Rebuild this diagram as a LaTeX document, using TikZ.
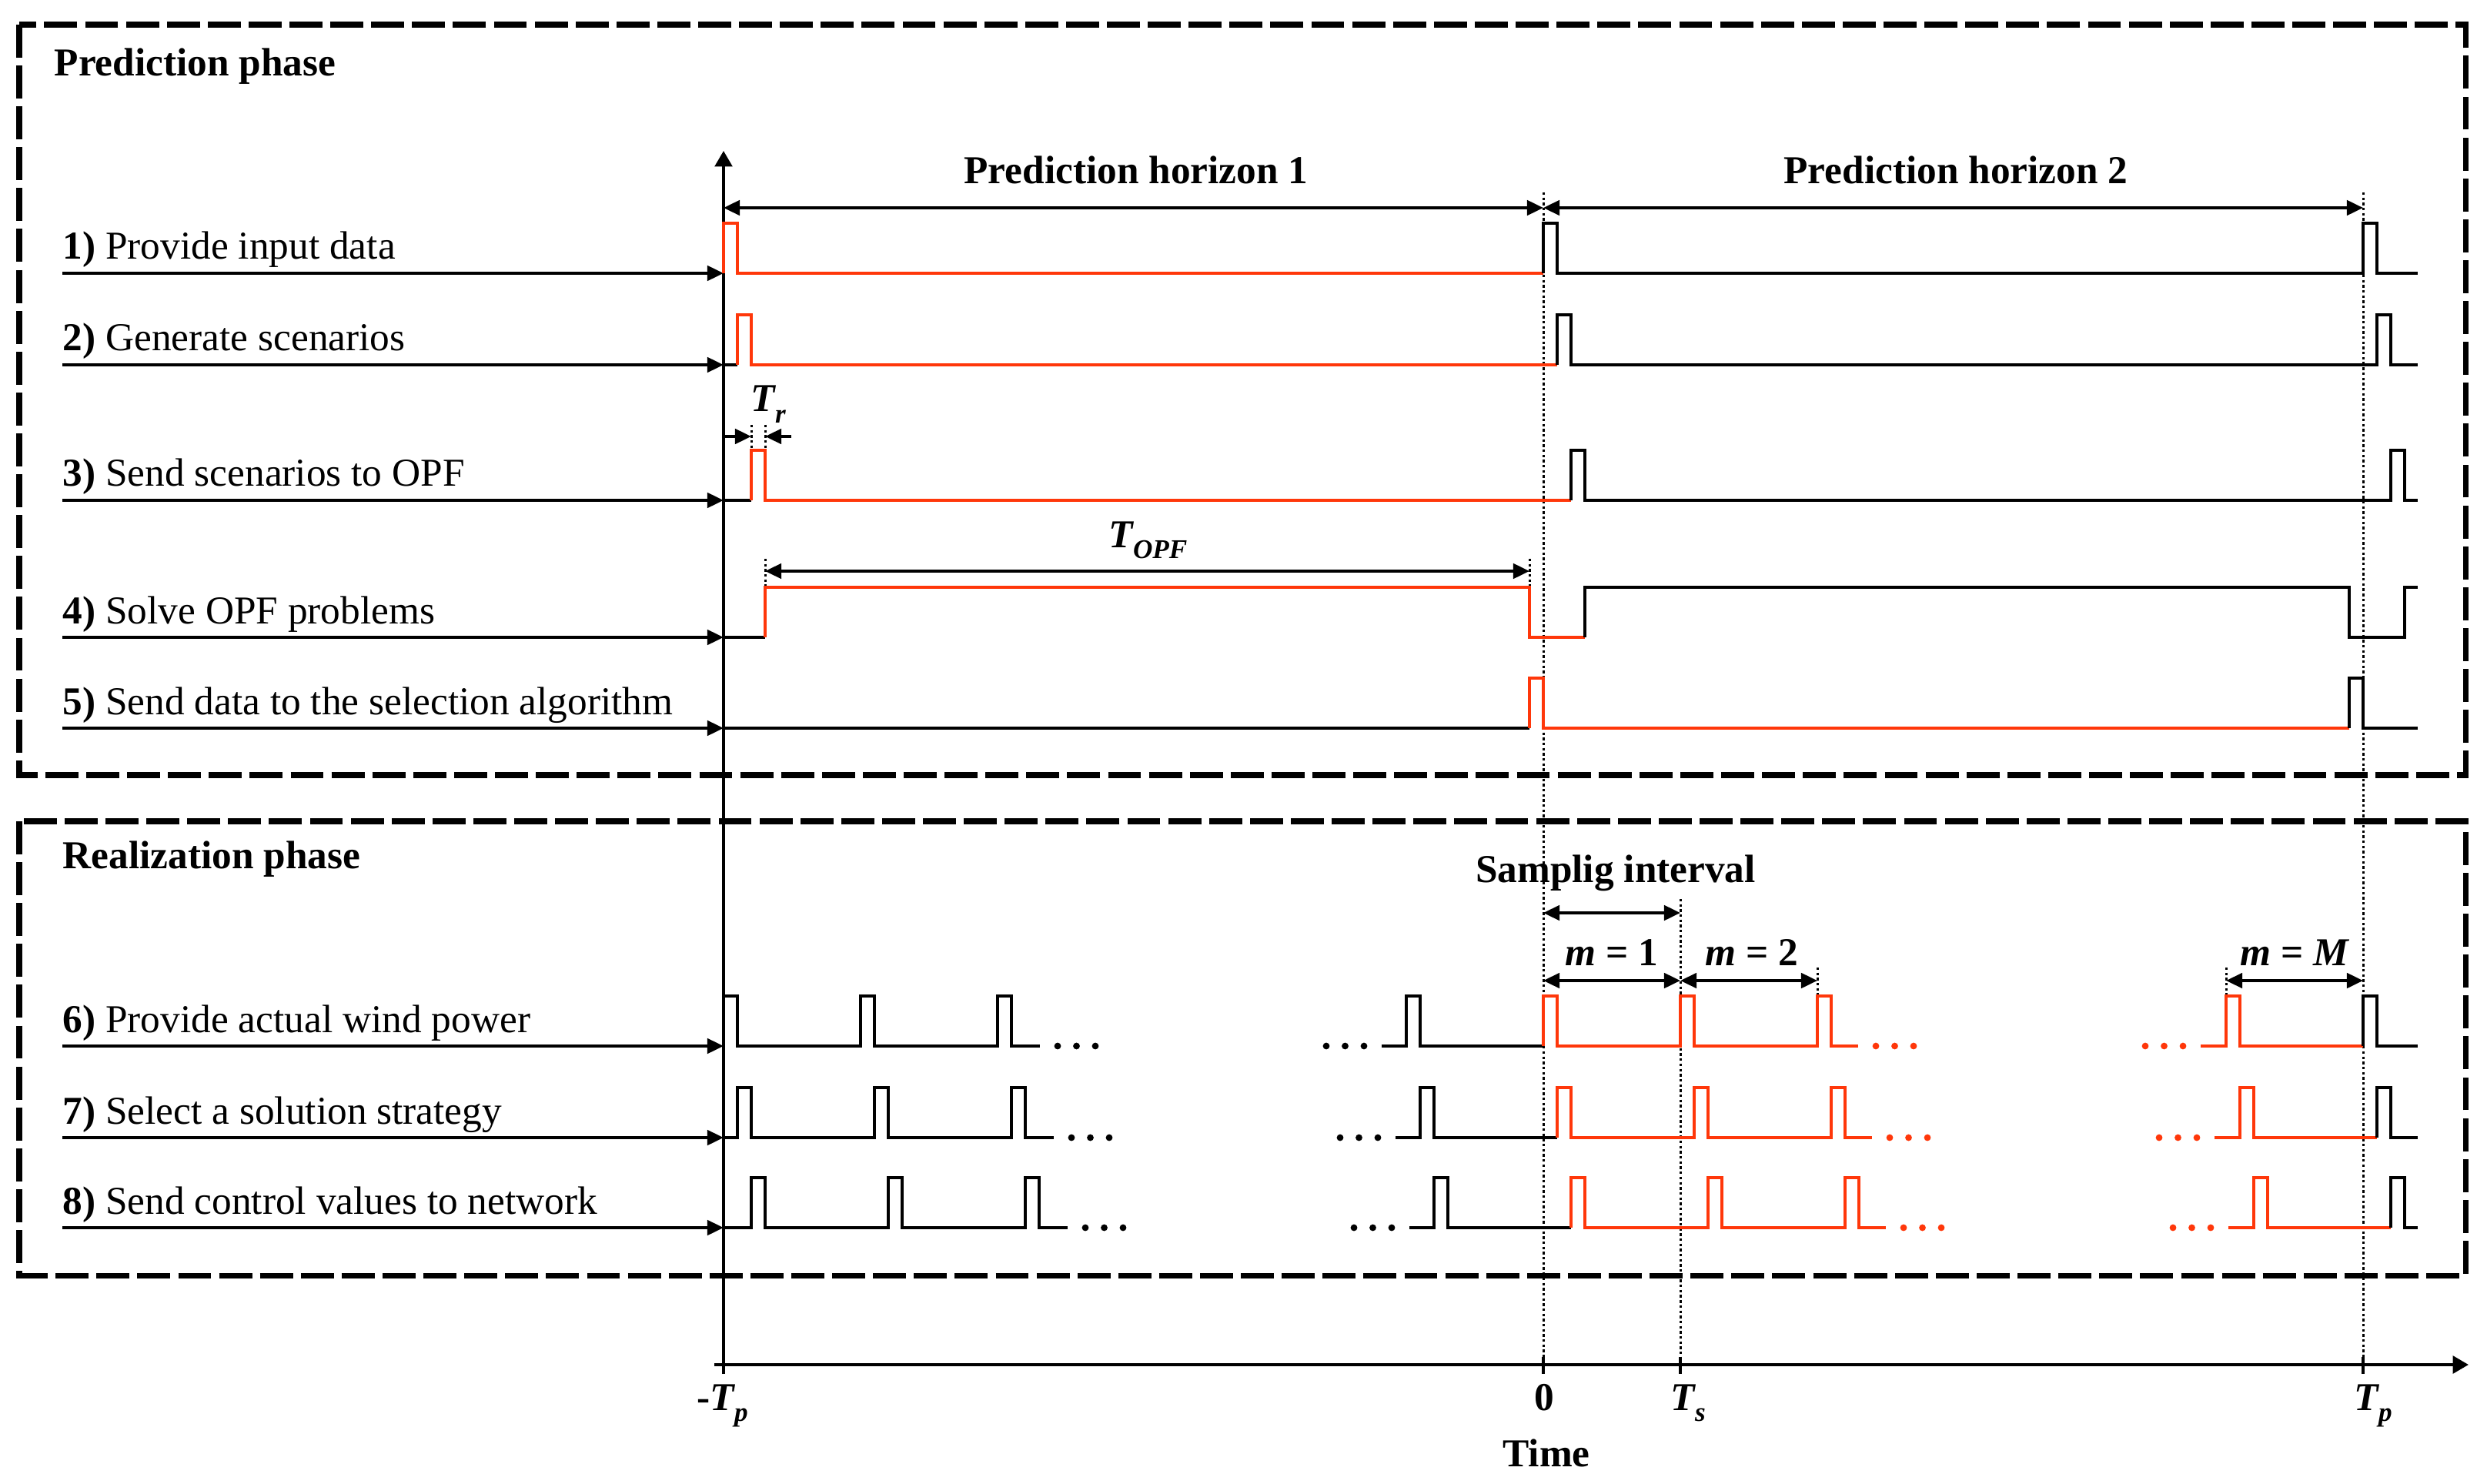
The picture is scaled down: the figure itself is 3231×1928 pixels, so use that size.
\documentclass[tikz,border=0pt]{standalone}
\usepackage{fontspec}
\setmainfont{Liberation Serif}
\usetikzlibrary{arrows.meta}
\definecolor{sigred}{RGB}{255,55,10}
\newcommand\fsz{\fontsize{14.6}{17.5}\selectfont}
\newcommand\sbs[1]{\raisebox{-0.28em}{\fontsize{10}{10}\selectfont #1}}
\newcommand\pls[2]{-- (#1,#2) -- (#1,#2-65) -- (#1+18,#2-65) -- (#1+18,#2)}
\newcommand\dts[3]{\fill[#3] (#1,#2) circle[radius=1.25pt] (#1+24.5,#2) circle[radius=1.25pt] (#1+49,#2) circle[radius=1.25pt];}
\tikzset{
  sigb/.style={line width=1.1pt,black},
  sigr/.style={line width=1.1pt,sigred},
  arr/.style={line width=1.1pt,-{Triangle[length=6pt,width=5.5pt]}},
  dimarr/.style={line width=1.1pt,{Triangle[length=6pt,width=5.5pt]}-{Triangle[length=6pt,width=5.5pt]}},
  dot/.style={line width=0.85pt,dash pattern=on 0.95pt off 0.95pt},
  phasebox/.style={line width=2pt,dash pattern=on 12.2pt off 2.9pt},
  lab/.style={font=\fsz,anchor=base west,inner sep=0pt},
  ttl/.style={font=\fsz\bfseries,anchor=base,inner sep=0pt},
  mlab/.style={font=\fsz\bfseries\itshape,anchor=base,inner sep=0pt},
  tlab/.style={font=\fsz\bfseries\itshape,anchor=base west,inner sep=0pt}
}
\begin{document}
\begin{tikzpicture}[x=0.01cm,y=-0.01cm]
\useasboundingbox (0,0) rectangle (3231,1928);
\def\tA{940}\def\tZ{2005}\def\tP{3070}\def\tS{178}\def\tE{3141}

% phase boxes
\draw[phasebox] (25,32) rectangle (3203,1007);
\draw[phasebox] (25,1067) rectangle (3203,1657);
\node[lab,font=\fsz\bfseries] (pp) at (70,99) {Prediction phase};
\node[lab,font=\fsz\bfseries] (rp) at (81,1128) {Realization phase};

% dotted guide lines
\draw[dot] (\tZ,250) -- (\tZ,1763);
\draw[dot] (\tP,250) -- (\tP,1763);
\draw[dot] (\tZ+\tS,1168) -- (\tZ+\tS,1763);
\draw[dot] (\tZ+2*\tS,1257) -- (\tZ+2*\tS,1294);
\draw[dot] (\tP-\tS,1257) -- (\tP-\tS,1294);
\draw[dot] (976,552) -- (976,585);
\draw[dot] (994,552) -- (994,585);
\draw[dot] (994,726) -- (994,763);
\draw[dot] (1987,726) -- (1987,763);

% axes
\coordinate (axB) at (\tA,1785);
\coordinate (axT) at (\tA,196);
\coordinate (axL) at (928,1773);
\coordinate (axR) at (3207,1773);
\draw[line width=1.1pt,-{Triangle[length=5.8pt,width=6.4pt]}] (axB) -- (axT);
\draw[line width=1.2pt,-{Triangle[length=5.8pt,width=6.4pt]}] (axL) -- (axR);
\foreach \tx in {\tZ,2183,\tP} \draw[line width=1.1pt] (\tx,1763) -- (\tx,1785);
\node[tlab] (lmtp) at (905,1832) {\upshape -\itshape T\sbs{p}};
\node[ttl] (l0) at (2006,1832) {0};
\node[tlab] (lts) at (2170,1832) {T\sbs{s}};
\node[tlab] (ltp) at (3058,1832) {T\sbs{p}};
\node[ttl] (ltime) at (2009,1905) {Time};

% row labels and input arrows
\foreach \yy/\txt [count=\i] in {355/{\textbf{1)} Provide input data},474/{\textbf{2)} Generate scenarios},650/{\textbf{3)} Send scenarios to OPF},828/{\textbf{4)} Solve OPF problems},946/{\textbf{5)} Send data to the selection algorithm},1359/{\textbf{6)} Provide actual wind power},1478/{\textbf{7)} Select a solution strategy},1595/{\textbf{8)} Send control values to network}}{
  \node[lab] (row\i) at (81,\yy-18) {\txt};
  \coordinate (rs\i) at (81,\yy);
  \coordinate (re\i) at (\tA,\yy);
  \draw[arr] (rs\i) -- (re\i);
}

% prediction horizons
\coordinate (h1L) at (\tA,270);
\coordinate (h1R) at (\tZ,270);
\coordinate (h2R) at (\tP,270);
\draw[dimarr] (h1L) -- (h1R);
\draw[dimarr] (h1R) -- (h2R);
\node[ttl] (ph1) at (1476,239) {Prediction horizon 1};
\node[ttl] (ph2) at (2541,239) {Prediction horizon 2};

% T_r
\coordinate (trA) at (\tA,567);
\coordinate (trB) at (976,567);
\coordinate (trC) at (994,567);
\coordinate (trD) at (1028,567);
\draw[arr] (trA) -- (trB);
\draw[arr] (trD) -- (trC);
\node[tlab] (tr) at (975,535) {T\sbs{r}};

% T_OPF
\coordinate (toL) at (994,742);
\coordinate (toR) at (1987,742);
\draw[dimarr] (toL) -- (toR);
\node[tlab] (topf) at (1440,711) {T\sbs{OPF}};

% prediction signals
\draw[sigr] (\tA,355) \pls{\tA}{355} -- (\tZ,355);
\draw[sigb] (\tZ,355) \pls{\tZ}{355} \pls{\tP}{355} -- (\tE,355);

\draw[sigb] (\tA,474) -- (\tA+18,474);
\draw[sigr] (\tA+18,474) \pls{\tA+18}{474} -- (\tZ+18,474);
\draw[sigb] (\tZ+18,474) \pls{\tZ+18}{474} \pls{\tP+18}{474} -- (\tE,474);

\draw[sigb] (\tA,650) -- (\tA+36,650);
\draw[sigr] (\tA+36,650) \pls{\tA+36}{650} -- (\tZ+36,650);
\draw[sigb] (\tZ+36,650) \pls{\tZ+36}{650} \pls{\tP+36}{650} -- (\tE,650);

\draw[sigb] (\tA,828) -- (\tA+54,828);
\draw[sigr] (\tA+54,828) -- (\tA+54,763) -- (\tZ-18,763) -- (\tZ-18,828) -- (\tZ+54,828);
\draw[sigb] (\tZ+54,828) -- (\tZ+54,763) -- (\tP-18,763) -- (\tP-18,828) -- (\tP+54,828) -- (\tP+54,763) -- (\tE,763);

\draw[sigb] (\tA,946) -- (\tZ-18,946);
\draw[sigr] (\tZ-18,946) \pls{\tZ-18}{946} -- (\tP-18,946);
\draw[sigb] (\tP-18,946) \pls{\tP-18}{946} -- (\tE,946);

% realization: sampling interval annotations
\coordinate (siL) at (\tZ,1186);
\coordinate (siR) at (\tZ+\tS,1186);
\draw[dimarr] (siL) -- (siR);
\node[ttl] (si) at (2099,1146) {Samplig interval};
\coordinate (m1L) at (\tZ,1274);
\coordinate (m1R) at (\tZ+\tS,1274);
\coordinate (m2R) at (\tZ+2*\tS,1274);
\coordinate (mML) at (\tP-\tS,1274);
\coordinate (mMR) at (\tP,1274);
\draw[dimarr] (m1L) -- (m1R);
\draw[dimarr] (m1R) -- (m2R);
\draw[dimarr] (mML) -- (mMR);
\node[mlab] (lm1) at (2094,1254) {m \upshape= 1};
\node[mlab] (lm2) at (2276,1254) {m \upshape= 2};
\node[mlab] (lmM) at (2981,1254) {m \upshape= \itshape M};

% realization signals
\foreach \k/\yy in {0/1359,1/1478,2/1595}{
  \pgfmathsetmacro\oo{18*\k}
  \draw[sigb] (\tA,\yy) \pls{\tA+\oo}{\yy} \pls{\tA+\oo+\tS}{\yy} \pls{\tA+\oo+2*\tS}{\yy} -- (\tA+\oo+2*\tS+55,\yy);
  \dts{\tA+\oo+2*\tS+78}{\yy}{black}
  \dts{\tZ-\tS+\oo-104}{\yy}{black}
  \draw[sigb] (\tZ-\tS+\oo-32,\yy) \pls{\tZ-\tS+\oo}{\yy} -- (\tZ+\oo,\yy);
  \draw[sigr] (\tZ+\oo,\yy) \pls{\tZ+\oo}{\yy} \pls{\tZ+\oo+\tS}{\yy} \pls{\tZ+\oo+2*\tS}{\yy} -- (\tZ+\oo+2*\tS+53,\yy);
  \dts{\tZ+\oo+2*\tS+76}{\yy}{sigred}
  \dts{\tP-\tS+\oo-105}{\yy}{sigred}
  \draw[sigr] (\tP-\tS+\oo-33,\yy) \pls{\tP-\tS+\oo}{\yy} -- (\tP+\oo,\yy);
  \draw[sigb] (\tP+\oo,\yy) \pls{\tP+\oo}{\yy} -- (\tE,\yy);
}
\end{tikzpicture}
\end{document}
